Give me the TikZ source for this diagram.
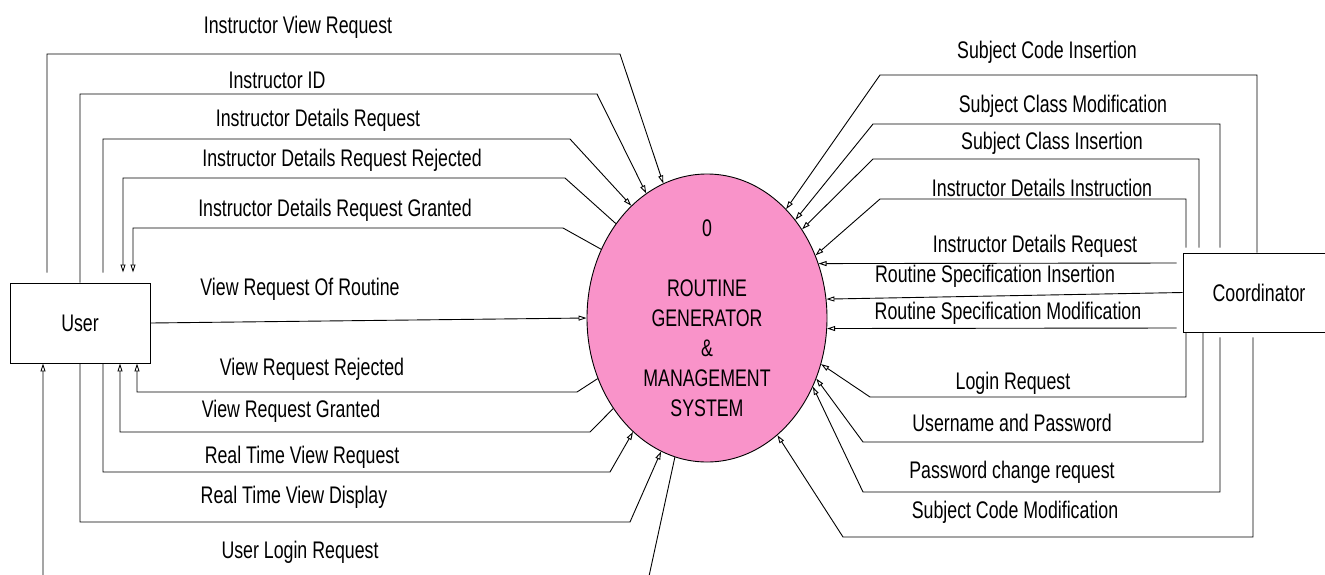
\documentclass[tikz,border=0pt]{standalone}
\usepackage{fontspec}
\setmainfont{Liberation Sans}[FakeStretch=0.74]
\usetikzlibrary{arrows.meta,shapes.geometric}
\definecolor{procpink}{RGB}{249,147,201}
\begin{document}
\begin{tikzpicture}[x=1pt,y=-1pt,
  every node/.style={font=\fontsize{24}{30}\selectfont},
  lbl/.style={inner sep=0pt},
  entity/.style={draw=black,line width=0.9pt,fill=white,inner sep=0pt},
  flow/.style={draw=black,line width=0.9pt,-{Triangle[open,length=8pt,width=5pt]}},
  plain/.style={draw=black,line width=0.9pt}]
\useasboundingbox (0,0) rectangle (1325,574);
\clip (0,0) rectangle (1325,574);

% process and external entities
\node[ellipse,draw=black,line width=0.9pt,fill=procpink,minimum width=240pt,minimum height=288pt,inner sep=0pt,align=center]
  (sys) at (707,318) {0\\[30pt]ROUTINE\\GENERATOR\\\&\\MANAGEMENT\\SYSTEM};
\node[entity,minimum width=140pt,minimum height=80pt] (user) at (80,323) {User};
\node[entity,minimum width=152pt,minimum height=79pt] (coord) at (1259,292.5) {Coordinator};

% free ends that stop just short of the boxes
\coordinate (uTop) at ([yshift=10pt]user.north);
\coordinate (cTop) at ([yshift=5pt]coord.north);
\coordinate (cBot) at ([yshift=-5pt]coord.south);
\coordinate (cW) at ([xshift=-6pt]coord.west);

% flows between User and the system
\draw[flow] (uTop -| 47,0) -- (47,54) -- (620,54) -- (sys.108.4);
\draw[flow] (user.north -| 80,0) -- (80,94) -- (597,94) -- (sys.116.4);
\draw[flow] (uTop -| 103,0) -- (103,139) -- (570,139) -- (sys.124.1);
\draw[flow] (sys.134.1) -- (565,178) -- (123,178) -- (uTop -| 123,0);
\draw[flow] (sys.147.6) -- (563,228) -- (133,228) -- (uTop -| 133,0);
\draw[flow] (user.east) -- (sys.west);
\draw[flow] (sys.209.6) -- (577,392) -- (137,392) -- (user.south -| 137,0);
\draw[flow] (sys.224.4) -- (590,432) -- (120,432) -- (user.south -| 120,0);
\draw[flow] (user.south -| 103,0) -- (103,472) -- (610,472) -- (sys.237.5);
\draw[flow] (user.south -| 80,0) -- (80,522) -- (630,522) -- (sys.251.6);
\draw[flow] (sys.257.1) -- (646,590) -- (43,590) -- (user.south -| 43,0);

% flows between Coordinator and the system
\draw[flow] (coord.north -| 1257,0) -- (1257,75) -- (880,75) -- (sys.54.9);
\draw[flow] (cTop -| 1220,0) -- (1220,124) -- (873,124) -- (sys.48.0);
\draw[flow] (cTop -| 1199,0) -- (1199,159) -- (873,159) -- (sys.43.8);
\draw[flow] (cTop -| 1186,0) -- (1186,199) -- (880,199) -- (sys.30.6);
\draw[flow] (cW |- 0,263) -- (sys.26.4);
\draw[flow] (coord.west) -- (sys.9.6);
\draw[flow] (cW |- 0,328) -- (sys.355.2);
\draw[flow] (coord.south -| 1186,0) -- (1186,397) -- (870,397) -- (sys.338.8);
\draw[flow] (coord.south -| 1203,0) -- (1203,442) -- (863,442) -- (sys.331.4);
\draw[flow] (cBot -| 1220,0) -- (1220,492) -- (863,492) -- (sys.327.1);
\draw[flow] (cBot -| 1253,0) -- (1253,537) -- (843,537) -- (sys.301.3);

% flow labels, left side
\node[lbl] (l1) at (298,27) {Instructor View Request};
\node[lbl] (l2) at (277,80) {Instructor ID};
\node[lbl] (l3) at (318,120) {Instructor Details Request};
\node[lbl] (l4) at (342,160) {Instructor Details Request Rejected};
\node[lbl] (l5) at (335,210) {Instructor Details Request Granted};
\node[lbl] (l6) at (300,289) {View Request Of Routine};
\node[lbl] (l7) at (312,369) {View Request Rejected};
\node[lbl] (l8) at (291,411) {View Request Granted};
\node[lbl] (l9) at (302,457) {Real Time View Request};
\node[lbl] (l10) at (294,497) {Real Time View Display};
\node[lbl] (l11) at (300,552) {User Login Request};

% flow labels, right side
\node[lbl] (r1) at (1047,52) {Subject Code Insertion};
\node[lbl] (r2) at (1063,106) {Subject Class Modification};
\node[lbl] (r3) at (1052,143) {Subject Class Insertion};
\node[lbl] (r4) at (1042,188) {Instructor Details Instruction};
\node[lbl] (r5) at (1035,246) {Instructor Details Request};
\node[lbl] (r6) at (995,276) {Routine Specification Insertion};
\node[lbl] (r7) at (1008,313) {Routine Specification Modification};
\node[lbl] (r8) at (1013,383) {Login Request};
\node[lbl] (r9) at (1012,423) {Username and Password};
\node[lbl] (r10) at (1012,472) {Password change request};
\node[lbl] (r11) at (1015,512) {Subject Code Modification};
\end{tikzpicture}
\end{document}
